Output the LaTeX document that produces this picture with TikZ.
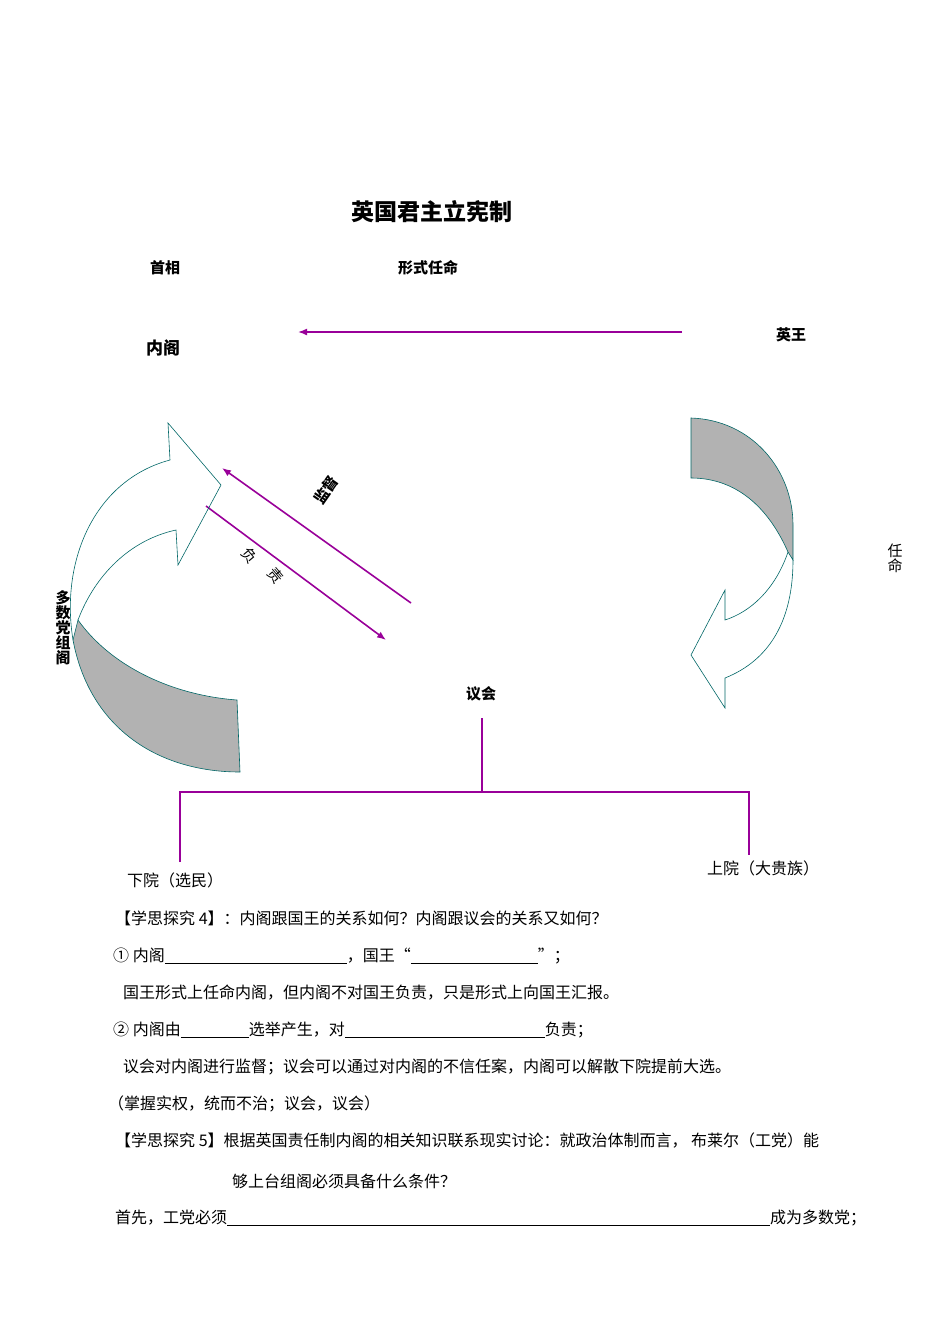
\documentclass[tikz,border=0pt]{standalone}
\usepackage{fontspec}
\setmainfont{Noto Sans CJK SC}
\usetikzlibrary{arrows.meta}
\begin{document}
\begin{tikzpicture}[x=1pt,y=-1pt,
  pl/.style={draw=violet!80!magenta,line width=1.6pt},
  pa/.style={pl,-{Latex[length=9pt,width=7pt]}},
  shp/.style={draw=teal!80!black,line width=0.6pt},
  lbl/.style={font=\fontsize{15}{18}\selectfont\bfseries,inner sep=0pt},
  txt/.style={font=\fontsize{16}{18}\selectfont,inner sep=0pt,anchor=west}]
\useasboundingbox (0,0) rectangle (950,1344);
% titles
\node[lbl,font=\fontsize{23}{26}\selectfont\bfseries] (title) at (432,212) {英国君主立宪制};
\node[lbl] (sx) at (165,268) {首相};
\node[lbl] (xs) at (428,268) {形式任命};
\node[lbl,font=\fontsize{17}{20}\selectfont\bfseries] (ng) at (163,348) {内阁};
\node[lbl] (yw) at (791,335) {英王};
\node[lbl] (yh) at (481,694) {议会};
\node[txt,anchor=center,align=center,font=\fontsize{15}{15}\selectfont] (rm) at (895,558) {任\\命};
\node[lbl,align=center,font=\fontsize{15}{15}\selectfont\bfseries] (dsd) at (63,628) {多\\数\\党\\组\\阁};
\node[lbl,rotate=55] (jd) at (326,490) {监督};
\node[lbl,font=\fontsize{15}{18}\selectfont,rotate=-50] (f1) at (250,556) {负};
\node[lbl,font=\fontsize{15}{18}\selectfont,rotate=-50] (f2) at (276,576) {责};
% purple connectors
\coordinate (a1) at (682,332); \coordinate (a2) at (298,332);
\draw[pa] (a1) -- (a2);
\coordinate (b1) at (411,603); \coordinate (b2) at (222,468);
\draw[pa] (b1) -- (b2);
\coordinate (c1) at (206,506); \coordinate (c2) at (386,640);
\draw[pa] (c1) -- (c2);
\coordinate (p0) at (482,718); \coordinate (p1) at (482,792);
\coordinate (l0) at (180,792); \coordinate (l1) at (180,862);
\coordinate (r0) at (749,792); \coordinate (r1) at (749,855);
\draw[pl] (p0) -- (p1);
\draw[pl] (l1) -- (l0) -- (r0) -- (r1);
% right curved arrow
\draw[shp,fill=gray!60] (691,418) .. controls (752,420) and (793,470) .. (793,525) -- (793,560)
  -- (788,552) .. controls (765,500) and (730,478) .. (691,478) -- cycle;
\draw[shp] (788,552) .. controls (775,590) and (750,612) .. (725,620) -- (725,590) -- (691,655) -- (725,708) -- (725,678)
  .. controls (770,660) and (793,620) .. (793,560);
% left curved arrow
\draw[shp,fill=gray!60] (78,620) .. controls (110,665) and (170,695) .. (237,700) -- (240,772)
  .. controls (160,772) and (90,730) .. (73,640) -- cycle;
\draw[shp] (73,640) .. controls (60,560) and (95,480) .. (170,460) -- (168,423) -- (221,485) -- (178,565) -- (176,530)
  .. controls (130,540) and (95,575) .. (78,620);
% lower texts
\node[txt,anchor=center] (xy) at (175,880) {下院（选民）};
\node[txt,anchor=center] (sy) at (763,868) {上院（大贵族）};
\node[txt] (t1) at (115,918) {【学思探究 4】：内阁跟国王的关系如何？内阁跟议会的关系又如何？};
\node[txt] (t2) at (113,956) {① 内阁\rule[-3pt]{182pt}{0.9pt}，国王“\rule[-3pt]{127pt}{0.9pt}”；};
\node[txt] (t3) at (123,993) {国王形式上任命内阁，但内阁不对国王负责，只是形式上向国王汇报。};
\node[txt] (t4) at (113,1030) {② 内阁由\rule[-3pt]{68pt}{0.9pt}选举产生，对\rule[-3pt]{200pt}{0.9pt}负责；};
\node[txt] (t5) at (123,1067) {议会对内阁进行监督；议会可以通过对内阁的不信任案，内阁可以解散下院提前大选。};
\node[txt] (t6) at (108,1104) {（掌握实权，统而不治；议会，议会）};
\node[txt] (t7) at (115,1140) {【学思探究 5】根据英国责任制内阁的相关知识联系现实讨论：就政治体制而言， 布莱尔（工党）能};
\node[txt] (t8) at (232,1181) {够上台组阁必须具备什么条件？};
\node[txt] (t9) at (115,1218) {首先，工党必须\rule[-3pt]{543pt}{0.9pt}成为多数党；};
\end{tikzpicture}
\end{document}
